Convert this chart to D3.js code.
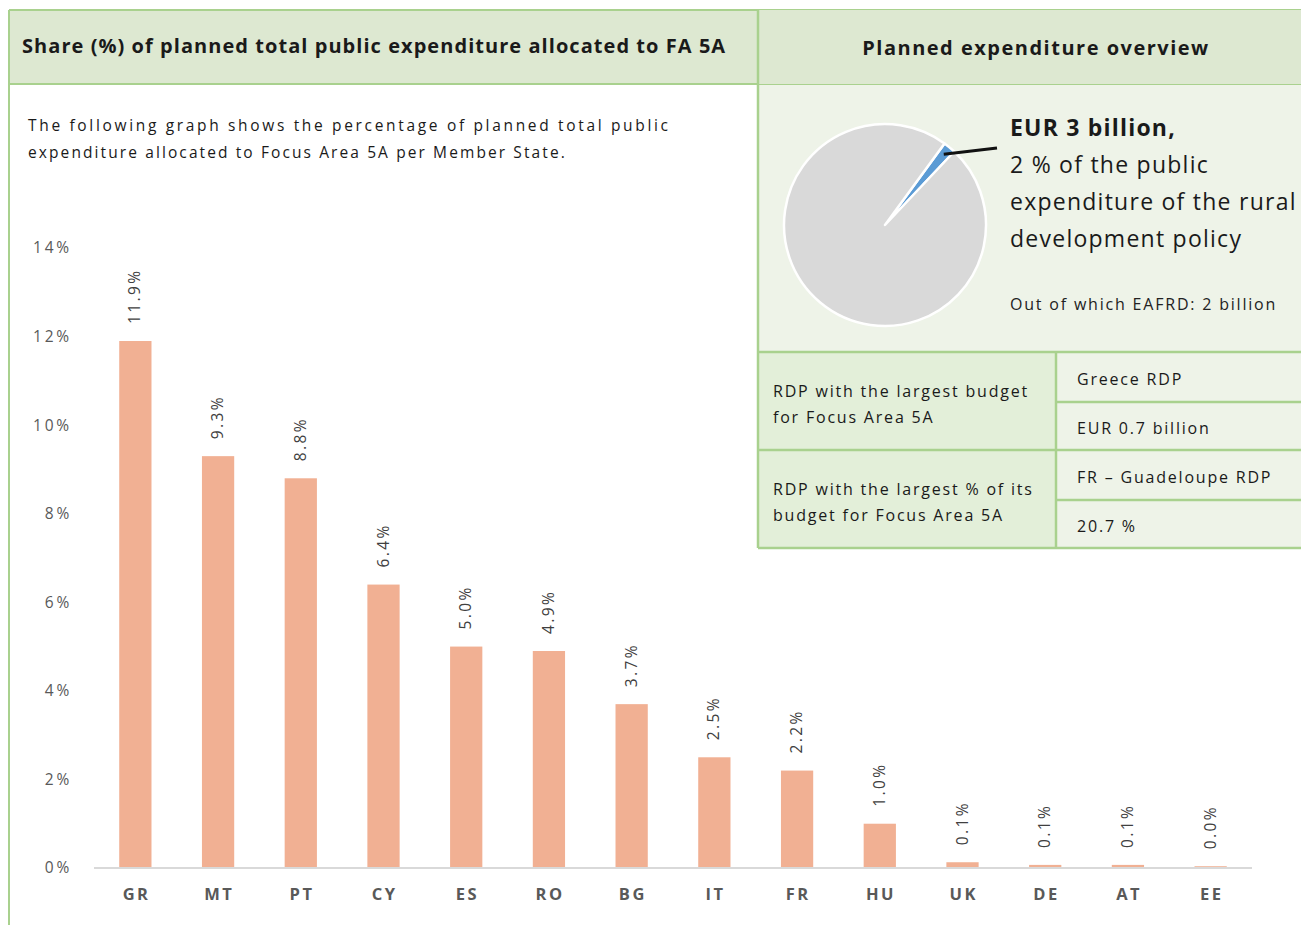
<!DOCTYPE html>
<html><head><meta charset="utf-8">
<script src="https://cdn.jsdelivr.net/npm/d3@7"></script>
<style>html,body{margin:0;padding:0;background:#fff;overflow:hidden}svg{display:block}</style>
</head><body>
<script>
const categories = ["GR","MT","PT","CY","ES","RO","BG","IT","FR","HU","UK","DE","AT","EE"];
const shares = [11.9, 9.3, 8.8, 6.4, 5.0, 4.9, 3.7, 2.5, 2.2, 1.0, 0.13, 0.07, 0.07, 0.04];
const yTicks = [0, 2, 4, 6, 8, 10, 12, 14];
const pieValues = [2, 98];
const pieText = ["EUR 3 billion,", "2 % of the public", "expenditure of the rural", "development policy"];
const tableRows = [
  ["RDP with the largest budget", "for Focus Area 5A", "Greece RDP", "EUR 0.7 billion"],
  ["RDP with the largest % of its", "budget for Focus Area 5A", "FR – Guadeloupe RDP", "20.7 %"]
];

const W = 1301, H = 925;
const font = "'Open Sans', 'Noto Sans', sans-serif";
const green = "#a9d18e";
const svg = d3.select("body").append("svg").attr("width", W).attr("height", H)
  .style("font-family", font);

// ---- Left panel frame ----
svg.append("rect").attr("x", 9).attr("y", 10).attr("width", 749).attr("height", 74).attr("fill", "#dde8d1");
svg.append("line").attr("x1", 9).attr("x2", 9).attr("y1", 10).attr("y2", 925).attr("stroke", green).attr("stroke-width", 2);
svg.append("line").attr("x1", 9).attr("x2", 1301).attr("y1", 10).attr("y2", 10).attr("stroke", green).attr("stroke-width", 2);
svg.append("line").attr("x1", 9).attr("x2", 1301).attr("y1", 84).attr("y2", 84).attr("stroke", green).attr("stroke-width", 2);
svg.append("text").attr("x", 22).attr("y", 53).attr("font-size", 20).attr("font-weight", 700).attr("fill", "#1a1a1a")
  .attr("letter-spacing", 1.05)
  .text("Share (%) of planned total public expenditure allocated to FA 5A");

const desc = svg.append("g").attr("font-size", 15.5).attr("fill", "#1a1a1a");
desc.append("text").attr("x", 28).attr("y", 131).attr("textLength", 640).attr("lengthAdjust", "spacing")
  .text("The following graph shows the percentage of planned total public");
desc.append("text").attr("x", 28).attr("y", 158).attr("letter-spacing", 2.1)
  .text("expenditure allocated  to Focus Area 5A per Member State.");

// ---- Bar chart ----
const x = d3.scaleBand().domain(categories).range([94, 1252]).paddingInner(0.61).paddingOuter(0.305);
const y = d3.scaleLinear().domain([0, 14]).range([868, 248]);

const yAxis = svg.append("g").attr("transform", "translate(75,0)")
  .call(d3.axisLeft(y).tickValues(yTicks).tickFormat(d => d + "%").tickSize(0));
yAxis.select(".domain").remove();
yAxis.selectAll("text").attr("font-size", 15.5).attr("fill", "#595959").attr("font-family", font)
  .attr("letter-spacing", 2.8).attr("dx", 0);

svg.append("g").selectAll("rect").data(categories).join("rect")
  .attr("x", d => x(d)).attr("width", x.bandwidth())
  .attr("y", (d, i) => y(shares[i])).attr("height", (d, i) => y(0) - y(shares[i]))
  .attr("fill", "#f1b093");

const xAxis = svg.append("g").attr("transform", "translate(0,868)")
  .call(d3.axisBottom(x).tickSize(0).tickPadding(20));
xAxis.select(".domain").attr("stroke", "#d9d9d9").attr("stroke-width", 2)
  .attr("d", "M94,0H1252");
xAxis.selectAll("text").attr("font-size", 16.5).attr("font-weight", 700).attr("fill", "#595959").attr("font-family", font)
  .attr("letter-spacing", 2.5).attr("dx", 1.2);

svg.append("g").selectAll("text").data(categories).join("text")
  .attr("transform", (d, i) => `translate(${x(d) + x.bandwidth() / 2 + 5},${y(shares[i]) - 17}) rotate(-90)`)
  .attr("font-size", 15.5).attr("fill", "#404040").attr("letter-spacing", 2.4)
  .text((d, i) => shares[i].toFixed(1) + "%");

// ---- Right panel ----
svg.append("rect").attr("x", 758).attr("y", 10).attr("width", 543).attr("height", 74).attr("fill", "#dde8d1");
svg.append("rect").attr("x", 758).attr("y", 85).attr("width", 543).attr("height", 267).attr("fill", "#eef3e8");
svg.append("text").attr("x", 1036).attr("y", 55).attr("text-anchor", "middle").attr("font-size", 20).attr("font-weight", 700).attr("fill", "#1a1a1a")
  .attr("letter-spacing", 1.5)
  .text("Planned expenditure overview");

// pie
const pieG = svg.append("g").attr("transform", "translate(885,225)");
const pie = d3.pie().sort(null).startAngle(0.63).endAngle(0.63 + 2 * Math.PI);
const arc = d3.arc().innerRadius(0).outerRadius(101);
pieG.selectAll("path").data(pie(pieValues)).join("path")
  .attr("d", arc).attr("fill", (d, i) => i === 0 ? "#5b9bd5" : "#d9d9d9")
  .attr("stroke", "#fff").attr("stroke-width", 2.5).attr("stroke-linejoin", "round");
const midA = pie(pieValues)[0];
const ang = (midA.startAngle + midA.endAngle) / 2;
pieG.append("path")
  .attr("d", `M${Math.sin(ang) * 92},${-Math.cos(ang) * 92}L112,-77`)
  .attr("stroke", "#111").attr("stroke-width", 3).attr("fill", "none");

const pt = svg.append("g").attr("fill", "#1a1a1a");
pieText.forEach((t, i) => {
  pt.append("text").attr("x", 1010).attr("y", 136 + i * 37)
    .attr("font-size", 23).attr("font-weight", i === 0 ? 700 : 400).attr("letter-spacing", i === 0 ? 1.2 : 1.25).text(t);
});
pt.append("text").attr("x", 1010).attr("y", 310).attr("font-size", 16).attr("fill", "#222").attr("letter-spacing", 1.8)
  .text("Out of which EAFRD: 2 billion");

// table
const tg = svg.append("g").attr("letter-spacing", 1.8);
tableRows.forEach((r, i) => {
  const y0 = 352 + i * 98;
  tg.append("rect").attr("x", 758).attr("y", y0).attr("width", 298).attr("height", 98).attr("fill", "#e3efd9");
  tg.append("rect").attr("x", 1056).attr("y", y0).attr("width", 245).attr("height", 98).attr("fill", "#eef3e8");
  tg.append("text").attr("x", 773).attr("y", y0 + 45).attr("font-size", 16).attr("fill", "#1a1a1a").text(r[0]);
  tg.append("text").attr("x", 773).attr("y", y0 + 71).attr("font-size", 16).attr("fill", "#1a1a1a").text(r[1]);
  tg.append("text").attr("x", 1077).attr("y", y0 + 33).attr("font-size", 16).attr("fill", "#1a1a1a").text(r[2]);
  tg.append("text").attr("x", 1077).attr("y", y0 + 82).attr("font-size", 16).attr("fill", "#1a1a1a").text(r[3]);
});
[352, 450, 548].forEach(yy => tg.append("line").attr("x1", 758).attr("x2", 1301).attr("y1", yy).attr("y2", yy).attr("stroke", green).attr("stroke-width", 2.5));
[402, 500].forEach(yy => tg.append("line").attr("x1", 1056).attr("x2", 1301).attr("y1", yy).attr("y2", yy).attr("stroke", green).attr("stroke-width", 2.5));
tg.append("line").attr("x1", 1056).attr("x2", 1056).attr("y1", 352).attr("y2", 548).attr("stroke", green).attr("stroke-width", 2.5);
svg.append("line").attr("x1", 758).attr("x2", 758).attr("y1", 10).attr("y2", 548).attr("stroke", green).attr("stroke-width", 2.5);
</script>
</body></html>
